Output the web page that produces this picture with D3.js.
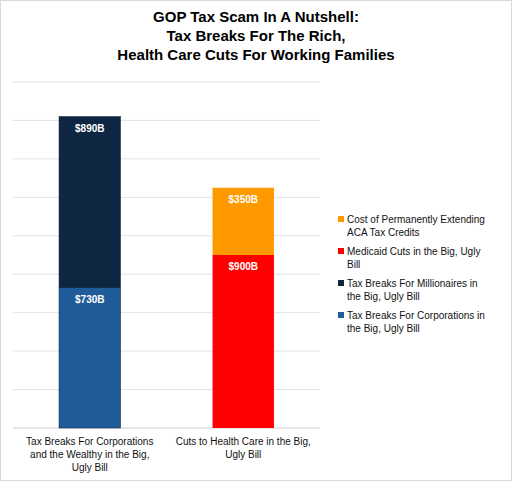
<!DOCTYPE html>
<html><head><meta charset="utf-8">
<script src="https://cdn.jsdelivr.net/npm/d3@7"></script>
<style>body{margin:0;background:#fff}svg{display:block;font-family:"Liberation Sans",Arial,sans-serif}</style>
</head><body><svg id="c" width="512" height="481"></svg>
<script>
const categories = ["Tax Breaks For Corporations and the Wealthy in the Big, Ugly Bill", "Cuts to Health Care in the Big, Ugly Bill"];
const categoryLines = [["Tax Breaks For Corporations", "and the Wealthy in the Big,", "Ugly Bill"], ["Cuts to Health Care in the Big,", "Ugly Bill"]];
const seriesNames = ["Tax Breaks For Corporations in the Big, Ugly Bill", "Tax Breaks For Millionaires in the Big, Ugly Bill", "Medicaid Cuts in the Big, Ugly Bill", "Cost of Permanently Extending ACA Tax Credits"];
const seriesValues = [[730, 0], [890, 0], [0, 900], [0, 350]];
const colors = ["#1f5c99", "#0f2642", "#ff0000", "#ff9900"];
const legendLines = [["Cost of Permanently Extending", "ACA Tax Credits"], ["Medicaid Cuts in the Big, Ugly", "Bill"], ["Tax Breaks For Millionaires in", "the Big, Ugly Bill"], ["Tax Breaks For Corporations in", "the Big, Ugly Bill"]];
const legendColors = [colors[3], colors[2], colors[1], colors[0]];
const titleLines = ["GOP Tax Scam In A Nutshell:", "Tax Breaks For The Rich,", "Health Care Cuts For Working Families"];

const svg = d3.select("#c");
svg.append("rect").attr("x", 0.5).attr("y", 0.5).attr("width", 511).attr("height", 480).attr("fill", "#fff").attr("stroke", "#d9d9d9");

svg.append("g").selectAll("text").data(titleLines).join("text")
  .attr("x", 256).attr("y", (d, i) => 22 + i * 19).attr("text-anchor", "middle")
  .attr("font-size", 15).attr("font-weight", "bold").text(d => d);

const x = d3.scaleBand().domain(categories).range([13, 320]).paddingInner(0.6).paddingOuter(0.3);
const y = d3.scaleLinear().domain([0, 1800]).range([428, 82]);

svg.append("g").selectAll("line").data(d3.range(0, 1801, 200)).join("line")
  .attr("x1", 13).attr("x2", 320).attr("y1", d => y(d)).attr("y2", d => y(d))
  .attr("stroke", d => d === 0 ? "#d0d0d0" : "#e3e3e3").attr("stroke-width", 1);

const rows = categories.map((c, j) => { const o = { cat: c }; seriesNames.forEach((s, i) => o[s] = seriesValues[i][j]); return o; });
const stack = d3.stack().keys(seriesNames)(rows);

stack.forEach((layer, i) => {
  const g = svg.append("g");
  layer.forEach((d, j) => {
    if (d[1] - d[0] <= 0) return;
    g.append("rect").attr("x", x(categories[j])).attr("width", x.bandwidth())
      .attr("y", y(d[1])).attr("height", y(d[0]) - y(d[1])).attr("fill", colors[i])
      .attr("stroke", j === 0 ? "#0f2642" : "none").attr("stroke-width", 0.6);
    g.append("text").attr("x", x(categories[j]) + x.bandwidth() / 2).attr("y", y(d[1]) + 15)
      .attr("text-anchor", "middle").attr("fill", "#fff").attr("font-size", 10).attr("font-weight", "bold")
      .text("$" + (d[1] - d[0]) + "B");
  });
});

categoryLines.forEach((lines, j) => {
  svg.append("g").selectAll("text").data(lines).join("text")
    .attr("x", x(categories[j]) + x.bandwidth() / 2).attr("y", (d, i) => 445 + i * 13)
    .attr("text-anchor", "middle").attr("font-size", 10).attr("fill", "#111").text(d => d);
});

const ly = [223, 255, 287, 319];
legendLines.forEach((lines, i) => {
  const g = svg.append("g");
  g.append("rect").attr("x", 338).attr("y", ly[i] - 7).attr("width", 6).attr("height", 6).attr("fill", legendColors[i]);
  g.selectAll("text").data(lines).join("text").attr("x", 347).attr("y", (d, k) => ly[i] + k * 12.5)
    .attr("font-size", 10).attr("fill", "#111").text(d => d);
});
</script></body></html>
